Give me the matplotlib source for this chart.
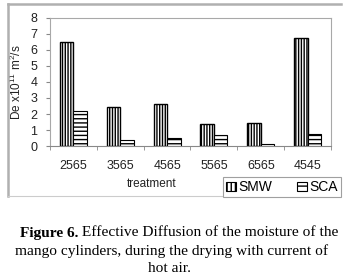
import matplotlib
matplotlib.use("Agg")
import matplotlib.pyplot as plt
import numpy as np
from matplotlib.patches import Patch
from matplotlib.lines import Line2D

categories = ["2565", "3565", "4565", "5565", "6565", "4545"]
smw = [6.5, 2.45, 2.6, 1.4, 1.45, 6.75]
sca = [2.2, 0.4, 0.5, 0.7, 0.1, 0.75]
series_names = ["SMW", "SCA"]
yticks = [0, 1, 2, 3, 4, 5, 6, 7, 8]

plt.rcParams['font.family'] = ['Liberation Sans', 'DejaVu Sans']
plt.rcParams['mathtext.fontset'] = 'custom'
plt.rcParams['mathtext.rm'] = 'Liberation Sans'
plt.rcParams['mathtext.it'] = 'Liberation Sans'
plt.rcParams['hatch.linewidth'] = 1.0

W, H = 347, 279
dpi = 100
fig = plt.figure(figsize=(W / dpi, H / dpi), dpi=dpi)

def px(x0, y0, x1, y1):
    return [x0 / W, 1 - y1 / H, (x1 - x0) / W, (y1 - y0) / H]

ax = fig.add_axes(px(50, 18, 331, 146))
x = np.arange(len(categories))
bw = 0.29
ax.bar(x - bw / 2, smw, bw, color='white', edgecolor='black', hatch='||||||', linewidth=1.0)
ax.bar(x + bw / 2, sca, bw, color='white', edgecolor='black', hatch='----', linewidth=0.8)

ax.set_xlim(-0.5, len(categories) - 0.5)
ax.set_ylim(0, 8)
ax.set_yticks(yticks)
ax.set_xticks(x)
ax.set_xticklabels(categories)
ax.set_xticks(np.arange(len(categories) + 1) - 0.5, minor=True)
ax.tick_params(axis='x', which='major', length=0, pad=10, labelsize=9, colors='#222222')
ax.tick_params(axis='x', which='minor', length=3, color='#888888')
ax.tick_params(axis='y', length=3, color='#888888', labelsize=9, pad=6, labelcolor='#222222')
for s in ['top', 'right', 'left']:
    ax.spines[s].set_color('#a8a8a8')
    ax.spines[s].set_linewidth(0.8)
ax.spines['bottom'].set_color('#888888')
ax.spines['bottom'].set_linewidth(0.8)
ax.set_ylabel('De x10$^{11}$ m$^{2}$/s', fontsize=8.5, labelpad=5, color='#222222')
fig.text(152 / W, 1 - 184 / H, 'treatment', fontsize=8.5, ha='center', va='center', color='#222222')

handles = [Patch(facecolor='white', edgecolor='black', hatch='||||', linewidth=0.8),
           Patch(facecolor='white', edgecolor='black', hatch='---', linewidth=0.8)]
leg = fig.legend(handles, series_names, ncol=2, loc='lower right',
                 bbox_to_anchor=(341 / W, 1 - 197 / H), fontsize=10,
                 fancybox=False, edgecolor='#a0a0a0', framealpha=1,
                 handlelength=0.7, handleheight=0.7, handletextpad=0.2,
                 columnspacing=1.8, borderpad=0.2, borderaxespad=0)
leg.get_frame().set_linewidth(0.8)

# outer border
fig.add_artist(Line2D([8 / W, 341 / W], [1 - 4 / H, 1 - 4 / H], color='#b0b0b0', lw=1.8))
fig.add_artist(Line2D([8 / W, 8 / W], [1 - 4 / H, 1 - 196 / H], color='#b0b0b0', lw=1.8))
fig.add_artist(Line2D([8 / W, 222 / W], [1 - 196 / H, 1 - 196 / H], color='#cccccc', lw=0.8))

# caption
serif = ['Liberation Serif', 'DejaVu Serif']
cs = 11.1
cx = 176
fig.canvas.draw()
r = fig.canvas.get_renderer()
t1 = fig.text(0, 1 - 233 / H, 'Figure 6.', fontsize=cs, family=serif, weight='bold', va='center')
t2 = fig.text(0, 1 - 233 / H, ' Effective Diffusion of the moisture of the', fontsize=cs, family=serif, va='center')
w1 = t1.get_window_extent(r).width
w2 = t2.get_window_extent(r).width
start = (cx + 3 - (w1 + w2) / 2)
t1.set_x(start / W)
t2.set_x((start + w1) / W)
fig.text((cx - 4) / W, 1 - 251 / H, 'mango cylinders, during the drying with current of',
         fontsize=cs, family=serif, ha='center', va='center')
fig.text((cx - 6) / W, 1 - 268 / H, 'hot air.', fontsize=cs, family=serif, ha='center', va='center')

fig.savefig('out.png', dpi=dpi)
